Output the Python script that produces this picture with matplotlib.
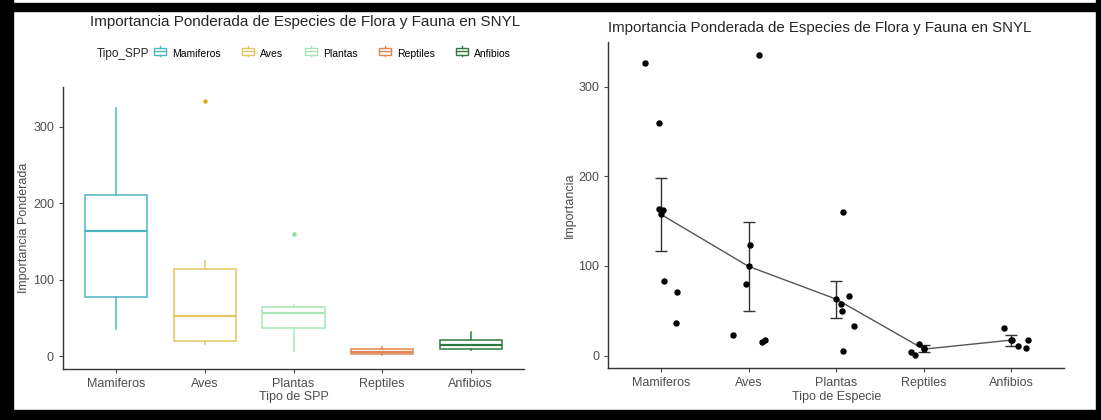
import matplotlib.pyplot as plt
from matplotlib.patches import Rectangle, Patch
from matplotlib.lines import Line2D
from matplotlib.legend_handler import HandlerBase

plt.rcParams['font.family'] = ['Liberation Sans', 'DejaVu Sans']

# ---- data -------------------------------------------------------------
categorias = ['Mamiferos', 'Aves', 'Plantas', 'Reptiles', 'Anfibios']
colores = ['#4ab5c4', '#e2c55c', '#a9e5b6', '#de8654', '#2e7a3a']
colores_outlier = ['#4ab5c4', '#e3a614', '#8fdca0', '#de8654', '#2e7a3a']

# boxplot stats (left panel)
whis_lo = [36, 16, 6, 1, 8]
q1 = [77.6, 19.6, 37, 2.6, 8.7]
mediana = [163.5, 53, 55.8, 5.7, 14]
q3 = [210.6, 113.4, 64.5, 9.6, 21]
whis_hi = [325, 124, 66.7, 12.2, 31.8]
outliers = [[], [333.6], [160], [], []]

# individual values (right panel) + jitter
valores = [
    [327, 260, 164, 163, 83.5, 70.8, 36],
    [336, 123, 79.4, 23.2, 15, 17.6],
    [160.3, 67, 57.7, 49.8, 33, 5.2],
    [12.7, 4.1, 0.2, 8],
    [30.7, 17, 10.1, 8.2, 16.9],
]
jitter = [
    [-0.18, -0.02, -0.02, 0.02, 0.04, 0.18, 0.17],
    [0.12, 0.02, -0.03, -0.18, 0.15, 0.19],
    [0.08, 0.15, 0.06, 0.07, 0.2, 0.08],
    [-0.06, -0.15, -0.1, 0.0],
    [-0.08, 0.01, 0.08, 0.17, 0.19],
]
media = [157.7, 99.6, 63, 7.1, 17.2]
err_lo = [117, 49.4, 41.6, 3.4, 11]
err_hi = [198, 148.7, 83.5, 11.2, 22.5]

titulo = 'Importancia Ponderada de Especies de Flora y Fauna en SNYL'
gris = '#4d4d4d'


class BoxKey(HandlerBase):
    def create_artists(self, legend, orig, xd, yd, w, h, fontsize, trans):
        c = orig.get_edgecolor()
        x0, x1 = xd + 0.05 * w, xd + 0.95 * w
        r = Rectangle((x0, yd + 0.15 * h), x1 - x0, 0.7 * h, fc='white',
                      ec=c, lw=1.0, transform=trans)
        m = Line2D([x0, x1], [yd + 0.5 * h] * 2, color=c, lw=1.0, transform=trans)
        a = Line2D([xd + 0.5 * w] * 2, [yd + 0.85 * h, yd + 1.05 * h], color=c, lw=1.0, transform=trans)
        b = Line2D([xd + 0.5 * w] * 2, [yd - 0.05 * h, yd + 0.15 * h], color=c, lw=1.0, transform=trans)
        return [r, m, a, b]


def estilo(ax):
    for s in ['top', 'right']:
        ax.spines[s].set_visible(False)
    for s in ['left', 'bottom']:
        ax.spines[s].set_color('#333333')
        ax.spines[s].set_linewidth(1.0)
    ax.tick_params(colors=gris, labelsize=9, length=3, width=0.8)
    ax.tick_params(axis='both', labelcolor=gris)
    ax.set_xlim(0.4, 5.6)
    ax.set_xticks(range(1, 6))
    ax.set_xticklabels(categorias)
    ax.set_yticks([0, 100, 200, 300])


fig = plt.figure(figsize=(11.01, 4.2), dpi=100)

# ---- left: boxplot ------------------------------------------------------
ax1 = fig.add_axes([63 / 1101, 1 - 368.7 / 420, 461 / 1101, 282 / 420])
stats = []
for i in range(5):
    stats.append(dict(whislo=whis_lo[i], q1=q1[i], med=mediana[i], q3=q3[i],
                      whishi=whis_hi[i], fliers=outliers[i]))
bp = ax1.bxp(stats, positions=range(1, 6), widths=0.7, patch_artist=True,
             showcaps=False)
for i in range(5):
    bp['boxes'][i].set(facecolor='white', edgecolor=colores[i], linewidth=1.1)
    bp['medians'][i].set(color=colores[i], linewidth=1.6)
    for w in bp['whiskers'][2 * i:2 * i + 2]:
        w.set(color=colores[i], linewidth=1.1)
    bp['fliers'][i].set(marker='o', markersize=3.2, markerfacecolor=colores_outlier[i],
                        markeredgecolor='none')
estilo(ax1)
ax1.set_ylim(-16.6, 352.5)
ax1.set_xlabel('Tipo de SPP', fontsize=9, color=gris, labelpad=1)
ax1.set_ylabel('Importancia Ponderada', fontsize=9, color=gris, labelpad=2)

fig.text(90 / 1101, 1 - 22 / 420, titulo, fontsize=11, color='#262626', va='center')
fig.text(97 / 1101, 1 - 54 / 420, 'Tipo_SPP', fontsize=8.5, color='#262626', va='center')
handles = [Patch(edgecolor=c, facecolor='white', label=n) for c, n in zip(colores, categorias)]
fig.legend(handles=handles, ncol=5, loc='center left', bbox_to_anchor=(153 / 1101, 1 - 54 / 420),
           frameon=False, fontsize=7.5, handler_map={Patch: BoxKey()},
           handlelength=1.3, handleheight=1.0, handletextpad=0.5, columnspacing=2.0,
           borderpad=0, borderaxespad=0)

# ---- right: points + mean line ------------------------------------------
ax2 = fig.add_axes([608.3 / 1101, 1 - 368.3 / 420, 455.7 / 1101, 326.6 / 420])
for i in range(5):
    xs = [i + 1 + j for j in jitter[i]]
    ax2.plot(xs, valores[i], 'o', color='black', markersize=3.6, zorder=3)
pos = list(range(1, 6))
ax2.plot(pos, media, '-', color='#555555', linewidth=1.0, zorder=2)
ax2.plot(pos, media, 'o', color='black', markersize=3.6, zorder=3)
lo = [m - l for m, l in zip(media, err_lo)]
hi = [h - m for m, h in zip(media, err_hi)]
ax2.errorbar(pos, media, yerr=[lo, hi], fmt='none', ecolor='#333333', elinewidth=1.0,
             capsize=4, capthick=1.0, zorder=2)
estilo(ax2)
ax2.set_ylim(-14.3, 350.6)
ax2.set_xlabel('Tipo de Especie', fontsize=9, color=gris, labelpad=1)
ax2.set_ylabel('Importancia', fontsize=9, color=gris, labelpad=2)
ax2.set_title(titulo, loc='left', fontsize=10.8, color='#262626', pad=7)

# black frame of the screenshot
fig.add_artist(Rectangle((0, 0), 13 / 1101, 1, transform=fig.transFigure, color='black'))
fig.add_artist(Rectangle((0, 1 - 11 / 420), 1, 8 / 420, transform=fig.transFigure, color='black'))
fig.add_artist(Rectangle((0, 0), 1, 10 / 420, transform=fig.transFigure, color='black'))
fig.add_artist(Rectangle((1 - 5 / 1101, 0), 5 / 1101, 1, transform=fig.transFigure, color='black'))

fig.savefig('out.png', dpi=100)
